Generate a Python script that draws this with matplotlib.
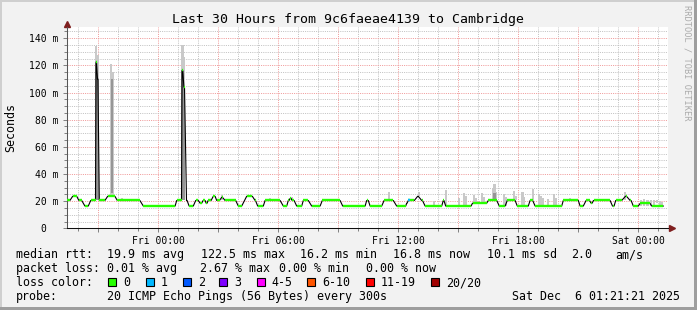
import matplotlib
matplotlib.use("Agg")
import matplotlib.pyplot as plt
import numpy as np
from matplotlib.patches import Rectangle
from matplotlib.transforms import Affine2D
from matplotlib.collections import LineCollection

plt.rcParams["font.family"] = "DejaVu Sans Mono"

W, H = 697, 310

# ---------------------------------------------------------------------------
# Dados (horas relativas a Fri 00:00, valores em ms)
# ---------------------------------------------------------------------------

TITULO = "Last 30 Hours from 9c6faeae4139 to Cambridge"
ROTULO_Y = "Seconds"

# trechos planos da mediana: inicio, fim, valor
seg_ini = [-4.58, -4.28, -3.97, -3.67, -3.38, -3.11, -3.04, -2.95, -2.53, -2.05,
           -0.75, 0.92, 1.19, 1.28, 1.41, 1.54, 1.87, 2.09, 2.24, 2.39,
           2.49, 2.75, 2.92, 3.17, 3.34, 4.00, 4.42, 4.84, 4.97, 5.34,
           6.25, 6.50, 6.59, 6.69, 6.92, 7.25, 7.67, 8.20, 9.22, 10.42,
           10.59, 11.29, 11.92, 12.42, 12.50, 12.97, 13.17, 13.34, 14.25, 14.37,
           15.71, 16.50, 17.05, 17.45, 17.95, 18.59, 18.84, 20.25, 21.09, 21.39,
           21.64, 21.76, 22.71, 22.87, 23.36, 23.59, 23.75, 24.09, 24.67]
seg_fim = [-4.42, -4.08, -3.83, -3.50, -3.14, -3.09, -3.02, -2.67, -2.17, -0.92,
           0.84, 1.16, 1.22, 1.31, 1.44, 1.75, 2.00, 2.17, 2.34, 2.44,
           2.64, 2.84, 3.06, 3.21, 3.87, 4.17, 4.70, 4.86, 5.25, 6.09,
           6.42, 6.54, 6.64, 6.79, 7.17, 7.50, 8.09, 9.09, 10.34, 10.50,
           11.17, 11.75, 12.37, 12.44, 12.80, 13.00, 13.21, 14.17, 14.28, 15.64,
           16.42, 16.92, 17.34, 17.84, 18.50, 18.72, 20.17, 21.00, 21.25, 21.56,
           21.69, 22.59, 22.79, 23.17, 23.41, 23.64, 24.00, 24.59, 25.25]
seg_ms = [20.5, 23.6, 20.5, 16.4, 20.5, 122.5, 110.0, 20.5, 23.6, 20.5,
          16.4, 20.5, 116.4, 104.1, 20.5, 16.4, 20.5, 18.5, 20.5, 18.5,
          20.5, 23.6, 20.5, 22.8, 20.5, 16.4, 23.6, 20.5, 16.4, 20.5,
          16.4, 20.5, 22.0, 20.5, 16.4, 20.5, 16.4, 20.5, 16.4, 20.5,
          16.4, 20.5, 16.4, 18.5, 20.5, 23.6, 20.5, 16.4, 20.5, 16.4,
          18.5, 20.5, 16.4, 20.5, 16.4, 20.5, 16.4, 20.5, 16.4, 20.5,
          18.5, 20.5, 16.4, 20.5, 23.6, 20.5, 16.4, 18.3, 16.4]

# trechos com perda de pacotes (indice do nivel em PERDA_ROTULOS)
perda_ini = [12.50]
perda_fim = [12.58]
perda_ms = [20.5]
perda_nivel = [1]

# fumaca (dispersao dos 20 pings) - camada clara
fumaca_t = [-3.11, -3.04, -2.35, -2.28, 1.21, 1.29,
            -1.81, -1.31, 3.17, 5.58, 6.69, 11.53, 13.03, 13.78, 14.39, 15.03,
            15.30, 15.38, 15.80, 15.88, 16.20, 16.28, 16.73, 16.81, 16.89, 17.29,
            17.37, 17.79, 17.87, 18.21, 18.29, 18.73, 19.05, 19.13, 19.21, 19.48,
            19.80, 19.88, 20.60, 22.49, 23.34, 24.14, 24.30, 24.46, 24.62, 24.78,
            24.94, 25.10, 25.20]
fumaca_min = [20.5, 20.5, 24.0, 24.0, 20.5, 20.5,
              20.5, 20.5, 20.5, 20.5, 20.5, 20.5, 23.6, 16.4, 16.4, 16.4,
              16.4, 16.4, 18.5, 18.5, 18.5, 18.5, 20.5, 20.5, 20.5, 16.4,
              16.4, 20.5, 20.5, 16.4, 16.4, 20.5, 16.4, 16.4, 16.4, 16.4,
              16.4, 16.4, 20.5, 20.5, 20.5, 16.4, 16.4, 16.4, 16.4, 16.4,
              18.3, 16.4, 16.4]
fumaca_max = [134.0, 128.0, 121.0, 115.0, 135.0, 126.0,
              22.5, 21.5, 24.5, 22.5, 23.3, 26.8, 26.5, 20.2, 28.5, 22.3,
              26.0, 24.0, 24.3, 22.5, 26.0, 23.0, 29.0, 33.0, 27.0, 25.0,
              23.0, 27.5, 24.0, 27.0, 23.0, 28.7, 25.0, 24.0, 22.0, 21.8,
              25.0, 22.0, 22.0, 21.8, 26.8, 20.8, 21.5, 20.5, 21.0, 20.5,
              21.0, 20.2, 19.5]

# fumaca - camada densa
denso_t = [-3.11, -3.04, -2.30, 1.21, 1.29, 16.81]
denso_min = [20.5, 20.5, 26.0, 20.5, 20.5, 20.5]
denso_max = [122.0, 110.0, 110.0, 116.0, 104.0, 26.0]

# eixos
x_ticks = [-3, 0, 3, 6, 9, 12, 15, 18, 21, 24]
x_labels = ["", "Fri 00:00", "", "Fri 06:00", "", "Fri 12:00", "", "Fri 18:00", "", "Sat 00:00"]
y_ticks = [0, 20, 40, 60, 80, 100, 120, 140]
y_labels = ["0  ", "20 m", "40 m", "60 m", "80 m", "100 m", "120 m", "140 m"]

# legenda
linha_rtt = ["median rtt:", "19.9 ms avg", "122.5 ms max", "16.2 ms min",
             "16.8 ms now", "10.1 ms sd", "2.0", "am/s"]
linha_perda = ["packet loss:", "0.01 % avg", "2.67 % max", "0.00 % min", "0.00 % now"]
PERDA_ROTULOS = ["0", "1", "2", "3", "4-5", "6-10", "11-19", "20/20"]
PERDA_CORES = ["#26ff00", "#00b8ff", "#0059ff", "#7e00ff",
               "#ff00ff", "#ff5500", "#ff0000", "#a00000"]
linha_probe = ["probe:", "20 ICMP Echo Pings (56 Bytes) every 300s"]
DATA_GRAFICO = "Sat Dec  6 01:21:21 2025"
MARCA = "RRDTOOL / TOBI OETIKER"

PASSO = 5 / 60  # 300 s

# ---------------------------------------------------------------------------
# Figura
# ---------------------------------------------------------------------------

FUNDO = "#f2f2f2"
SETA = "#7f1f1f"

fig = plt.figure(figsize=(W / 100, H / 100), dpi=100)
fig.patch.set_facecolor(FUNDO)
px = Affine2D().scale(1 / W, -1 / H).translate(0, 1) + fig.transFigure

# moldura 3D do rrdtool
for x0, y0, w, h, cor in [(0, 0, W, 2, "#cfcfcf"), (0, 0, 2, H, "#cfcfcf"),
                          (0, H - 3, W, 3, "#9e9e9e"), (W - 3, 0, 3, H, "#9e9e9e")]:
    fig.patches.append(Rectangle((x0, y0), w, h, transform=px, color=cor, lw=0))

ax = fig.add_axes([67 / W, 1 - 228.3 / H, (668 - 67) / W, (228.3 - 27) / H])
ax.set_facecolor("white")
ax.set_xlim(-4.565, 25.485)
ax.set_ylim(0, 148.3)

ax.set_xticks(x_ticks, x_labels)
ax.set_xticks(np.arange(-4, 26), minor=True)
ax.set_yticks(y_ticks, y_labels)
ax.set_yticks(np.arange(0, 150, 5), minor=True)

pontilhado = (0, (1, 1.2))
ax.grid(which="minor", color="#c2c2c2", linestyle=pontilhado, linewidth=0.72)
ax.grid(which="major", color="#f09a9a", linestyle=pontilhado, linewidth=0.72)
ax.set_axisbelow(True)

ax.tick_params(which="both", direction="out", color="#808080", width=0.7,
               labelsize=7.05, labelcolor="black")
ax.tick_params(which="major", length=3)
ax.tick_params(which="minor", length=2)
ax.tick_params(axis="x", pad=2.4)
ax.tick_params(axis="y", pad=3.0)

ax.spines[["top", "right"]].set_visible(False)
ax.spines["left"].set_color("#555555")
ax.spines["bottom"].set_color("#101010")
ax.spines["left"].set_linewidth(0.75)
ax.spines["bottom"].set_linewidth(0.75)

# setas dos eixos
ax.plot([0], [1.013], marker="^", ms=4.2, color=SETA, transform=ax.transAxes, clip_on=False)
ax.plot([1.006], [0], marker=">", ms=4.2, color=SETA, transform=ax.transAxes, clip_on=False)

# fumaca
ax.bar(fumaca_t, np.subtract(fumaca_max, fumaca_min), bottom=fumaca_min,
       width=PASSO * 1.25, color="#c9c9c9", linewidth=0, zorder=2)
ax.bar(denso_t, np.subtract(denso_max, denso_min), bottom=denso_min,
       width=PASSO * 1.25, color="#969696", linewidth=0, zorder=3)

# mediana
t_med = np.column_stack([seg_ini, seg_fim]).ravel()
v_med = np.repeat(seg_ms, 2)
ax.plot(t_med, v_med, color="black", linewidth=0.8, zorder=4)
verde = [[(a, v), (b, v)] for a, b, v in zip(seg_ini, seg_fim, seg_ms)]
ax.add_collection(LineCollection(verde, colors=PERDA_CORES[0], linewidths=1.7,
                                 capstyle="butt", zorder=5))
perda = [[(a, v), (b, v)] for a, b, v in zip(perda_ini, perda_fim, perda_ms)]
ax.add_collection(LineCollection(perda, colors=[PERDA_CORES[n] for n in perda_nivel],
                                 linewidths=1.7, capstyle="butt", zorder=6))

# textos
fig.text(348.5, 23.3, TITULO, transform=px, ha="center", va="baseline", fontsize=9.55)
fig.text(11, 127.5, ROTULO_Y, transform=px, ha="center", va="center",
         rotation=90, fontsize=8.4)
fig.text(687.5, 5, MARCA, transform=px, ha="center", va="top", rotation=270,
         fontsize=6.2, color="#ababab")

FS = 8.4
for x, s in zip([16, 107.3, 201, 300, 393.3, 486.7, 571, 615], linha_rtt):
    fig.text(x, 258.3, s, transform=px, ha="left", va="baseline", fontsize=FS)
for x, s in zip([16, 107.3, 200, 279.3, 366], linha_perda):
    fig.text(x, 272.3, s, transform=px, ha="left", va="baseline", fontsize=FS)

fig.text(16, 286.2, "loss color:", transform=px, ha="left", va="baseline", fontsize=FS)
caixas_x = [108.3, 145.7, 182.7, 219.3, 256.7, 307.3, 365.7, 431.0]
for x, rot, cor in zip(caixas_x, PERDA_ROTULOS, PERDA_CORES):
    fig.patches.append(Rectangle((x, 278.2), 8, 8, transform=px, facecolor=cor,
                                 edgecolor="black", linewidth=0.8))
    fig.text(x + 15, 286.2, rot, transform=px, ha="left", va="baseline", fontsize=FS)

for x, s in zip([16, 107.3], linha_probe):
    fig.text(x, 300.2, s, transform=px, ha="left", va="baseline", fontsize=FS)
fig.text(680, 300.2, DATA_GRAFICO, transform=px, ha="right", va="baseline", fontsize=FS)

fig.savefig("out.png", dpi=100, facecolor=FUNDO)
